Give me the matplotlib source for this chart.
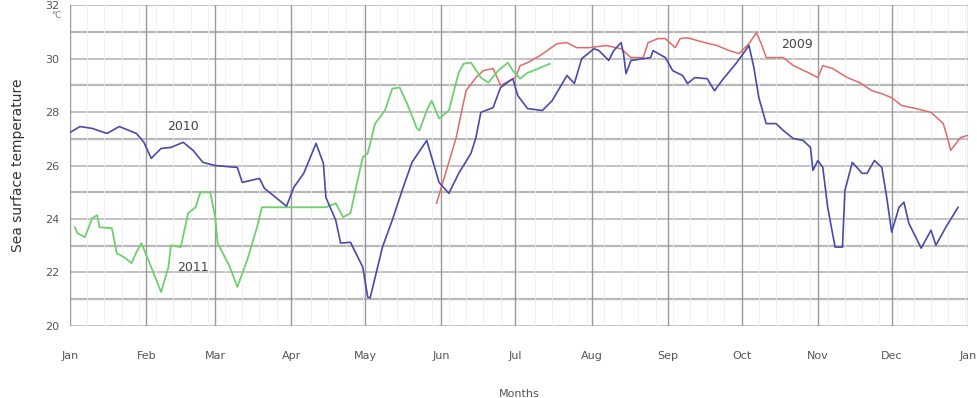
import matplotlib

matplotlib.use("Agg")
import matplotlib.pyplot as plt

# day of year / sea surface temperature (deg C)
day_2010 = [0, 4, 9, 15, 20, 27, 30, 33, 37, 41,
            46, 50, 54, 59, 68, 70, 77, 79, 88, 91,
            95, 100, 103, 104, 108, 110, 114, 119, 121, 122,
            127, 131, 135, 139, 145, 150, 154, 158, 163, 165,
            167, 172, 175, 180, 182, 186, 192, 196, 202, 205,
            208, 213, 215, 219, 221, 224, 225, 226, 228, 236,
            237, 242, 245, 249, 251, 254, 259, 262, 265, 271,
            276, 278, 280, 283, 287, 290, 294, 298, 301, 302,
            304, 306, 308, 311, 314, 315, 318, 322, 324, 327,
            330, 332, 334, 337, 339, 341, 346, 350, 352, 356,
            361]
temp_2010 = [27.24, 27.46, 27.39, 27.2, 27.46, 27.2, 26.87, 26.27, 26.64, 26.68,
             26.87, 26.57, 26.12, 26.0, 25.93, 25.37, 25.52, 25.15, 24.48, 25.19,
             25.71, 26.83, 26.08, 24.81, 23.96, 23.1, 23.13, 22.2, 21.08, 21.05,
             22.95, 23.96, 25.07, 26.12, 26.94, 25.37, 24.96, 25.71, 26.46, 27.05,
             27.99, 28.17, 28.92, 29.25, 28.62, 28.13, 28.06, 28.43, 29.37, 29.07,
             30.0, 30.37, 30.3, 29.93, 30.3, 30.6, 30.19, 29.44, 29.93, 30.04,
             30.3, 30.04, 29.55, 29.37, 29.07, 29.29, 29.25, 28.8, 29.18, 29.85,
             30.49, 29.66, 28.54, 27.57, 27.57, 27.31, 27.01, 26.94, 26.68, 25.82,
             26.19, 25.93, 24.44, 22.95, 22.95, 25.07, 26.12, 25.71, 25.71, 26.19,
             25.93, 24.81, 23.51, 24.44, 24.63, 23.84, 22.91, 23.58, 23.02, 23.69,
             24.44]

day_2011 = [2, 3, 6, 9, 11, 12, 17, 19, 22, 25,
            27, 29, 33, 37, 40, 41, 45, 48, 51, 53,
            57, 59, 60, 65, 68, 72, 76, 78, 104, 108,
            111, 114, 116, 119, 121, 124, 125, 128, 131, 134,
            137, 141, 142, 145, 147, 150, 154, 158, 160, 163,
            167, 170, 174, 178, 180, 183, 186, 187, 195]
temp_2011 = [23.69, 23.47, 23.32, 24.03, 24.14, 23.69, 23.66, 22.72, 22.57, 22.35,
             22.76, 23.1, 22.2, 21.27, 22.2, 23.02, 22.95, 24.22, 24.44, 25.0,
             25.0, 24.07, 23.1, 22.2, 21.46, 22.46, 23.69, 24.44, 24.44, 24.59,
             24.07, 24.22, 25.07, 26.31, 26.46, 27.57, 27.69, 28.06, 28.88, 28.92,
             28.32, 27.39, 27.31, 28.06, 28.43, 27.76, 28.06, 29.48, 29.81, 29.85,
             29.29, 29.1, 29.55, 29.85, 29.55, 29.25, 29.48, 29.5, 29.81]

day_2009 = [149, 153, 157, 159, 161, 165, 168, 172, 175, 181,
            183, 186, 191, 198, 202, 206, 211, 218, 224, 228,
            233, 235, 239, 242, 246, 248, 251, 258, 263, 268,
            272, 276, 279, 281, 283, 290, 294, 300, 304, 306,
            310, 316, 321, 326, 330, 334, 338, 344, 350, 355,
            357, 358, 362, 365]
temp_2009 = [24.59, 25.82, 27.05, 27.95, 28.8, 29.29, 29.55, 29.63, 29.0, 29.29,
             29.74, 29.85, 30.11, 30.56, 30.6, 30.41, 30.41, 30.49, 30.37, 30.04,
             30.04, 30.6, 30.75, 30.75, 30.41, 30.75, 30.78, 30.6, 30.49, 30.3,
             30.19, 30.56, 30.97, 30.56, 30.04, 30.04, 29.74, 29.48, 29.29, 29.74,
             29.63, 29.29, 29.1, 28.8, 28.69, 28.54, 28.25, 28.13, 27.99, 27.57,
             26.94, 26.57, 27.05, 27.13]

month_starts = [0, 31, 59, 90, 120, 151, 181, 212, 243, 273, 304, 334, 365]
month_names = ["Jan", "Feb", "Mar", "Apr", "May", "Jun", "Jul", "Aug", "Sep",
               "Oct", "Nov", "Dec", "Jan"]
y_ticks = [20, 22, 24, 26, 28, 30, 32]

BLUE, GREEN, RED = "#4a4aa8", "#6fd06f", "#e06a6a"

fig = plt.figure(figsize=(9.77, 3.98), dpi=100)
ax = fig.add_axes([0.0717, 0.181, 0.919, 0.806])

for v in range(20, 33):
    ax.axhline(v, color="#b8b8b8", lw=1.6 if v % 2 else 1.2, zorder=0)
for d in range(0, 366, 7):
    ax.axvline(d, color="#efefef", lw=0.6, zorder=0)
for d in month_starts:
    ax.axvline(d, color="#999999", lw=1.0, zorder=0)

ax.plot(day_2009, temp_2009, color=RED, lw=1.1)
ax.plot(day_2011, temp_2011, color=GREEN, lw=1.3)
ax.plot(day_2010, temp_2010, color=BLUE, lw=1.2)

ax.text(46, 27.46, "2010", fontsize=9, color="#444", ha="center", va="center")
ax.text(50, 22.2, "2011", fontsize=9, color="#444", ha="center", va="center")
ax.text(295.5, 30.52, "2009", fontsize=9, color="#444", ha="center", va="center")

ax.set_xlim(0, 365)
ax.set_ylim(20, 32)
ax.set_xticks(month_starts)
ax.set_xticklabels(month_names)
ax.set_yticks(y_ticks)
ax.tick_params(labelsize=8, colors="#555", length=0, pad=18)
ax.tick_params(axis="y", pad=8)
for s in ax.spines.values():
    s.set_visible(False)

ax.set_xlabel("Months", fontsize=8, color="#555", labelpad=20)
ax.set_ylabel("Sea surface temperature", fontsize=10, color="#333", labelpad=14)
fig.text(0.052, 0.955, "\u00b0C", fontsize=6, color="#777")

fig.savefig("out.png", dpi=100)
